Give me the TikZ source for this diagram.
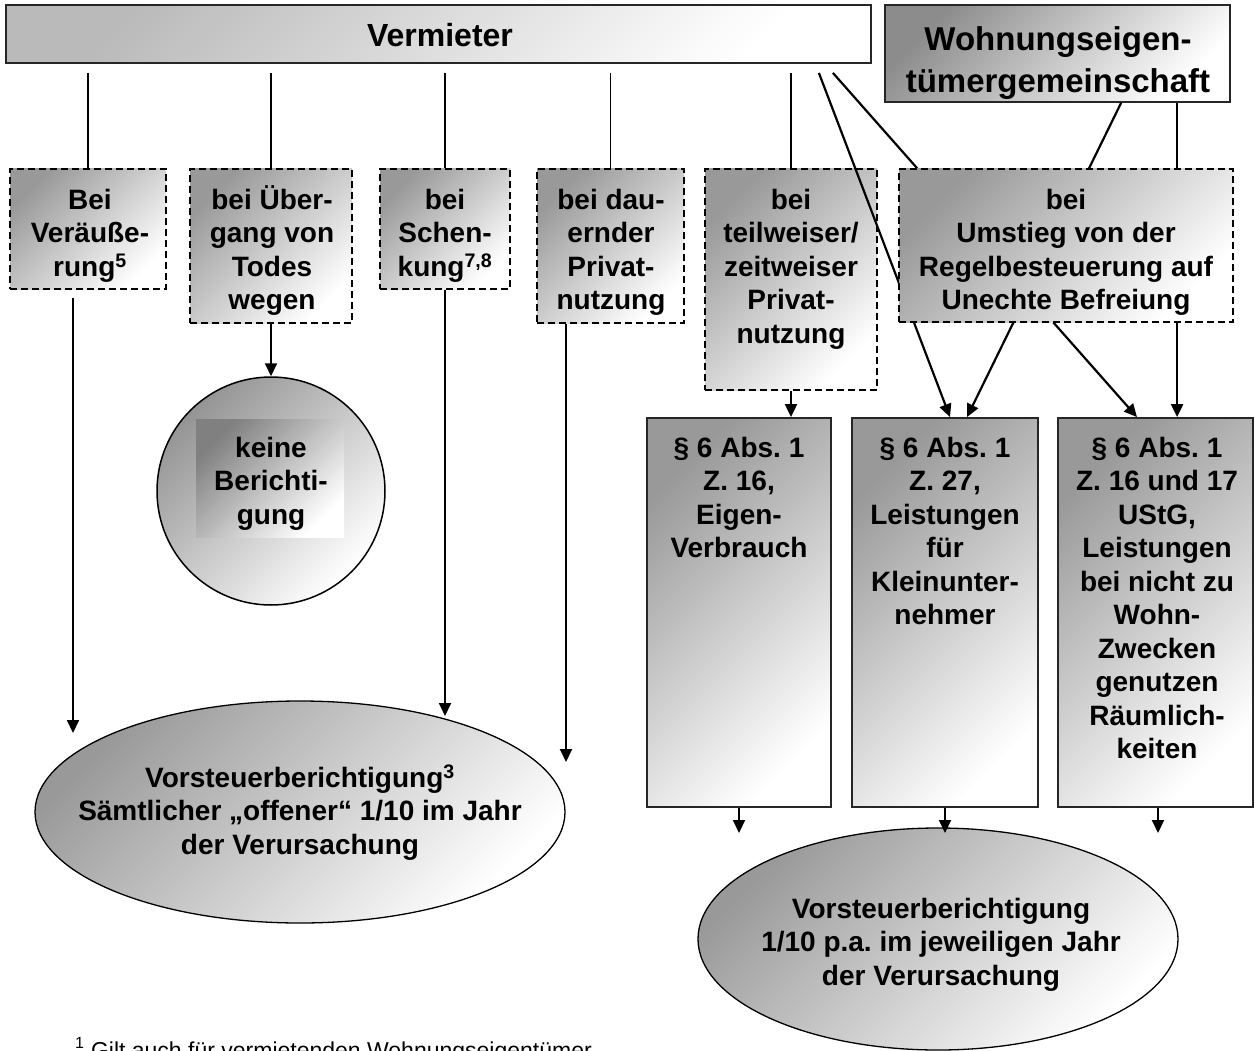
\documentclass[tikz,border=0pt]{standalone}
\usepackage{fontspec}
\setmainfont{Liberation Sans}
\usetikzlibrary{arrows.meta,calc,shapes.geometric}
\newcommand{\FirstLn}{\rule{0pt}{27pt}}
\newcommand{\FirstLnB}{\rule{0pt}{28pt}}
\tikzset{
  shadefill/.style={top color=black!#1, bottom color=white, shading angle=45},
  shadefill/.default=40,
  dbox/.style={rectangle, draw=black, line width=2.2pt, dash pattern=on 7pt off 4pt, inner sep=0pt},
  sbox/.style={rectangle, draw=black!85, line width=1.8pt, inner sep=0pt},
  txt/.style={font=\fontsize{28pt}{33.5pt}\selectfont\bfseries\frenchspacing, align=center, inner sep=0pt, anchor=north},
  bigtxt/.style={font=\fontsize{33pt}{42pt}\selectfont\bfseries, align=center, inner sep=0pt},
  thinln/.style={line width=1.2pt, draw=black},
  diag/.style={line width=2.2pt, draw=black},
  arr/.style={line width=2pt, draw=black, -{Triangle[length=13pt,width=12pt]}},
}
\begin{document}
\frenchspacing
\begin{tikzpicture}[x=1pt,y=-1pt]
\useasboundingbox (0,0) rectangle (1255,1051);
\clip (0,0) rectangle (1255,1051);

% top level
\node[sbox, shadefill=27, minimum width=865pt, minimum height=58pt] (verm) at (438.5,34) {};
\node[bigtxt, font=\fontsize{32pt}{40pt}\selectfont\bfseries, anchor=base] (vermt) at (440,47) {Vermieter};
\node[sbox, shadefill=45, minimum width=345pt, minimum height=97pt] (weg) at (1057.5,53.5) {};
\node[bigtxt, anchor=north] (wegt) at (1058,22) {\FirstLnB Wohnungseigen-\\tümergemeinschaft};

% first row of cases
\node[dbox, shadefill, minimum width=156pt, minimum height=120pt] (b1) at (88,229) {};
\node[txt] (b1t) at (90,182) {\FirstLn Bei\\Veräuße-\\rung\textsuperscript{5}};
\node[dbox, shadefill, minimum width=162pt, minimum height=154pt] (b2) at (271,246) {};
\node[txt] (b2t) at (272,182) {\FirstLn bei Über-\\gang von\\Todes\\wegen};
\node[dbox, shadefill, minimum width=130pt, minimum height=120pt] (b3) at (445,229) {};
\node[txt] (b3t) at (445,182) {\FirstLn bei\\Schen-\\kung\textsuperscript{7,8}};
\node[dbox, shadefill, minimum width=147pt, minimum height=154pt] (b4) at (610.5,246) {};
\node[txt] (b4t) at (611,182) {\FirstLn bei dau-\\ernder\\Privat-\\nutzung};
\node[dbox, shadefill, minimum width=172pt, minimum height=221pt] (b5) at (791,279.5) {};
\node[txt] (b5t) at (791,182) {\FirstLn bei\\teilweiser/\\zeitweiser\\Privat-\\nutzung};

% paragraph boxes
\node[sbox, shadefill, minimum width=184pt, minimum height=389pt] (p1) at (739,612.5) {};
\node[txt] (p1t) at (739,430) {\FirstLn § 6 Abs. 1\\Z. 16,\\Eigen-\\Verbrauch};
\node[sbox, shadefill, minimum width=186pt, minimum height=389pt] (p2) at (945,612.5) {};
\node[txt] (p2t) at (945,430) {\FirstLn § 6 Abs. 1\\Z. 27,\\Leistungen\\für\\Kleinunter-\\nehmer};
\node[sbox, shadefill, minimum width=195pt, minimum height=389pt] (p3) at (1155.5,612.5) {};
\node[txt] (p3t) at (1157,430) {\FirstLn § 6 Abs. 1\\Z. 16 und 17\\UStG,\\Leistungen\\bei nicht zu\\Wohn-\\Zwecken\\genutzen\\Räumlich-\\keiten};

% circle
\node[circle, draw=black, line width=1.5pt, shadefill=42, minimum size=228pt, inner sep=0pt] (circ) at (271,491) {};
\node[rectangle, shadefill=50, minimum width=148pt, minimum height=118pt, inner sep=0pt] (kbox) at (270,478) {};
\node[txt] (kt) at (271,430) {\FirstLn keine\\Berichti-\\gung};

% ellipses
\node[ellipse, draw=black, line width=1.3pt, shadefill=40, minimum width=530pt, minimum height=222pt, inner sep=0pt] (ell1) at (300,812) {};
\node[txt] (e1t) at (300,760) {\FirstLn Vorsteuerberichtigung\textsuperscript{3}\\Sämtlicher „offener“ 1/10 im Jahr\\der Verursachung};
\node[ellipse, draw=black, line width=1.3pt, shadefill=40, minimum width=480pt, minimum height=222pt, inner sep=0pt] (ell2) at (938,939) {};
\node[txt] (e2t) at (941,891) {\FirstLn Vorsteuerberichtigung\\1/10 p.a. im jeweiligen Jahr\\der Verursachung};

% footnote (cut by the lower edge, as in the original)
\node[font=\fontsize{23pt}{27pt}\selectfont, anchor=base west, inner sep=0pt] (fn) at (75,1058) {\textsuperscript{1} Gilt auch für vermietenden Wohnungseigentümer};

% free connector ends
\coordinate (t1) at (73,733);
\coordinate (t3) at (445,716);
\coordinate (t4) at (566,762);
\coordinate (q1) at (739,833);
\coordinate (q2) at (945,833);
\coordinate (q3) at (1158,833);
\coordinate (v1) at ([xshift=-53pt,yshift=-9pt]verm.south east);
\coordinate (v2) at ([xshift=-39pt,yshift=-9pt]verm.south east);
\coordinate (w3) at ([xshift=237pt]weg.south west);
\coordinate (w4) at ([xshift=293pt]weg.south west);

% connectors
\foreach \b in {b1,b2,b3,b4,b5}
  \draw[thinln, shorten <=9pt] (\b.north |- verm.south) -- (\b.north);
\draw[arr] ([xshift=-15pt,yshift=-8pt]b1.south) -- (t1);
\draw[arr] (b2.south) -- (circ.north);
\draw[arr] (b3.south) -- (t3);
\draw[arr] ([xshift=-44.5pt]b4.south) -- (t4);
\draw[arr] (b5.south) -- (b5.south |- p1.north);
\draw[arr] (p1.south) -- (q1);
\draw[arr] (p2.south) -- (q2);
\draw[arr] ([xshift=2.5pt]p3.south) -- (q3);
\draw[arr, diag] (v1) -- ([xshift=5pt]p2.north);
\draw[arr, diag] (v2) -- ([xshift=-18.5pt]p3.north);
\draw[arr, diag] (w3) -- ([xshift=22pt]p2.north);
\draw[arr, diag] (w4) -- (w4 |- p3.north);

% box drawn over the crossing lines
\node[dbox, shadefill, minimum width=334pt, minimum height=153pt] (b6) at (1066,245.5) {};
\node[txt] (b6t) at (1066,182) {\FirstLn bei\\Umstieg von der\\Regelbesteuerung auf\\Unechte Befreiung};
\end{tikzpicture}
\end{document}
